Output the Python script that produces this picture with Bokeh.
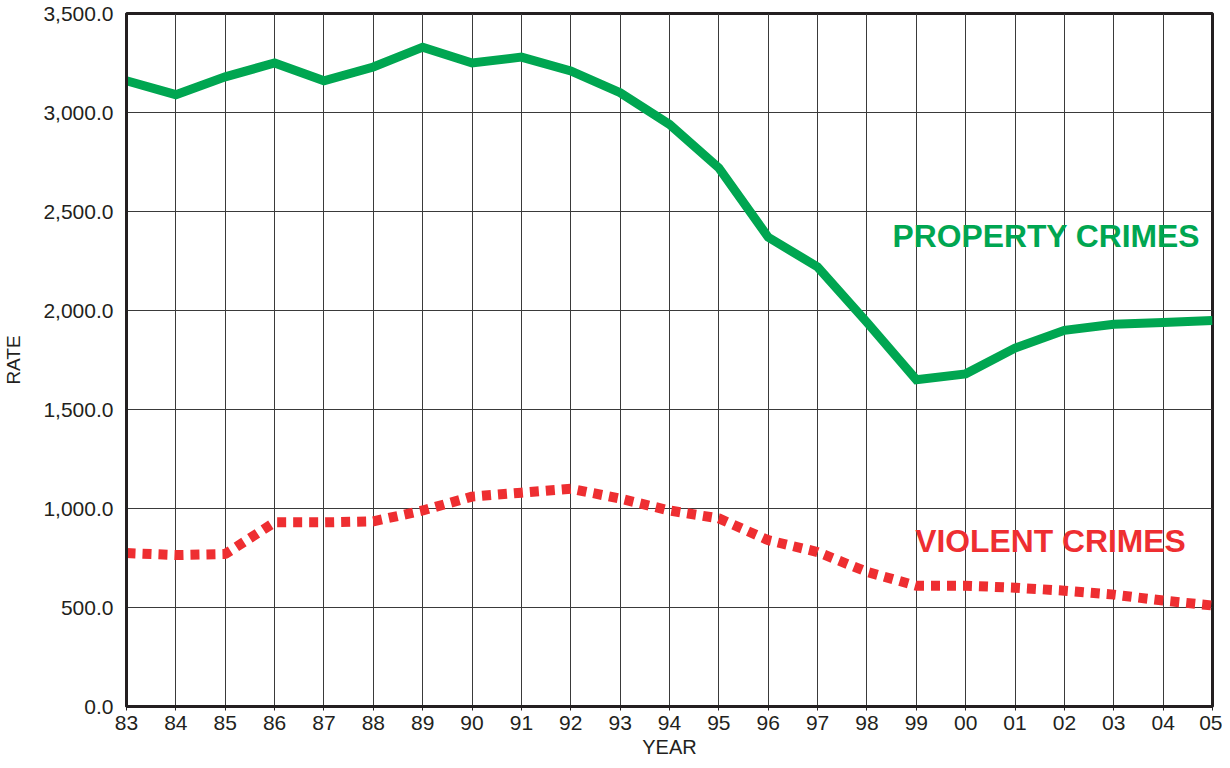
from bokeh.plotting import figure
from bokeh.models import Range1d, FixedTicker, Label
from bokeh.embed import file_html
from bokeh.resources import INLINE

years = list(range(1983, 2006))
year_labels = ["83", "84", "85", "86", "87", "88", "89", "90", "91", "92", "93",
               "94", "95", "96", "97", "98", "99", "00", "01", "02", "03", "04", "05"]
property_crimes = [3160, 3090, 3180, 3250, 3160, 3230, 3330, 3250, 3280, 3210, 3100,
                   2940, 2720, 2370, 2220, 1940, 1650, 1680, 1810, 1900, 1930, 1940, 1950]
violent_crimes = [775, 765, 770, 930, 930, 935, 990, 1060, 1080, 1100, 1050,
                  990, 950, 840, 780, 680, 610, 610, 600, 585, 565, 535, 510]
y_ticks = [0, 500, 1000, 1500, 2000, 2500, 3000, 3500]
y_tick_labels = ["0.0", "500.0", "1,000.0", "1,500.0", "2,000.0", "2,500.0", "3,000.0", "3,500.0"]

FONT = "Liberation Sans"
TXT = "#231f20"
GREEN = "#00a651"
RED = "#ee2e31"

p = figure(width=1222, height=760, output_backend="svg", toolbar_location=None,
           x_range=Range1d(1983, 2005), y_range=Range1d(0, 3500),
           min_border_left=126, min_border_right=10, min_border_top=13, min_border_bottom=53)

p.background_fill_color = "white"
p.border_fill_color = "white"
p.outline_line_color = "#231f20"
p.outline_line_width = 3

p.xaxis.ticker = FixedTicker(ticks=years)
p.xaxis.major_label_overrides = {y: l for y, l in zip(years, year_labels)}
p.yaxis.ticker = FixedTicker(ticks=y_ticks)
p.yaxis.major_label_overrides = {t: l for t, l in zip(y_ticks, y_tick_labels)}

for ax in (p.xaxis, p.yaxis):
    ax.axis_line_color = "#231f20"
    ax.axis_line_width = 3
    ax.major_label_text_font = FONT
    ax.major_label_text_font_size = "21px"
    ax.major_label_text_color = TXT
    ax.axis_label_text_font = FONT
    ax.axis_label_text_font_size = "19px"
    ax.axis_label_text_font_style = "normal"
    ax.axis_label_text_color = TXT
    ax.minor_tick_line_color = None
    ax.major_tick_in = 0

p.xaxis.major_tick_out = 4
p.xaxis.major_tick_line_color = "#231f20"
p.yaxis.major_tick_out = 0
p.xaxis.major_label_standoff = 5
p.yaxis.major_label_standoff = 13
p.xaxis.axis_label = "YEAR"
p.xaxis.axis_label_text_font_size = "20px"
p.xaxis.axis_label_standoff = 3
p.yaxis.axis_label = "RATE"
p.yaxis.axis_label_standoff = 16

p.xgrid.grid_line_color = "#3a3a3a"
p.ygrid.grid_line_color = "#3a3a3a"
p.xgrid.grid_line_width = 1
p.ygrid.grid_line_width = 1

p.line(years, property_crimes, line_color=GREEN, line_width=9, line_join="miter")
p.line(years, violent_crimes, line_color=RED, line_width=10, line_dash="9 7")

p.add_layout(Label(x=1998.52, y=2375, text="PROPERTY CRIMES", text_font=FONT,
                   text_font_size="31.8px", text_font_style="bold", text_color=GREEN,
                   text_baseline="alphabetic"))
p.add_layout(Label(x=1998.98, y=837, text="VIOLENT CRIMES", text_font=FONT,
                   text_font_size="31.8px", text_font_style="bold", text_color=RED,
                   text_baseline="alphabetic"))

open("out.html", "w").write(file_html(p, INLINE))
